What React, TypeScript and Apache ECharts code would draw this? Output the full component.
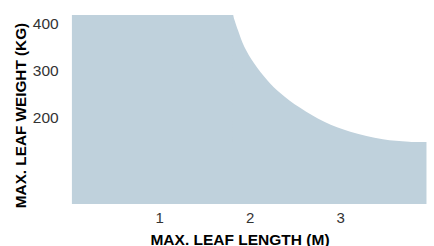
import React, { useEffect, useRef } from "react";
import * as echarts from "echarts";

const plateauLength = [0.03, 1.814];
const plateauWeight = [400, 400];
const declineLength = [1.81, 1.865, 1.936, 2.044, 2.19, 2.333, 2.549, 2.82, 3.108, 3.468, 3.757, 3.95];
const declineWeight = [400, 368, 333, 298, 262, 235, 204, 174, 153, 137, 132, 131];
const yTickLabels = [200, 300, 400];
const xTickLabels = [1, 2, 3];

export default function App() {
  const ref = useRef<HTMLDivElement>(null);
  useEffect(() => {
    document.body.style.margin = "0";
    if (!ref.current) return;
    const chart = echarts.init(ref.current, null, { renderer: "svg" });
    const font = "'Liberation Sans', Arial, Helvetica, sans-serif";
    const area = { color: "#bfd1dc", opacity: 1 };
    chart.setOption({
      animation: false,
      grid: { left: 69.2, top: 15, width: 370, height: 189 },
      xAxis: {
        type: "value",
        min: 0,
        max: 4,
        interval: 1,
        axisLine: { show: false },
        axisTick: { show: false },
        splitLine: { show: false },
        axisLabel: {
          fontFamily: font,
          fontSize: 15,
          color: "#333",
          margin: 6,
          formatter: (v: number) => (xTickLabels.includes(v) ? String(v) : ""),
        },
      },
      yAxis: {
        type: "value",
        min: 0,
        max: 400,
        interval: 100,
        axisLine: { show: false },
        axisTick: { show: false },
        splitLine: { show: false },
        axisLabel: {
          fontFamily: font,
          fontSize: 15.5,
          color: "#333",
          margin: 10.5,
          verticalAlign: "top",
          formatter: (v: number) => (yTickLabels.includes(v) ? String(v) : ""),
        },
      },
      graphic: [
        {
          type: "text",
          x: 240,
          y: 239,
          style: {
            text: "MAX. LEAF LENGTH (M)",
            fontFamily: font,
            fontWeight: "bold",
            fontSize: 15.5,
            fill: "#000",
            align: "center",
            verticalAlign: "middle",
          },
        },
        {
          type: "text",
          x: 20.5,
          y: 115.5,
          rotation: Math.PI / 2,
          style: {
            text: "MAX. LEAF WEIGHT (KG)",
            fontFamily: font,
            fontWeight: "bold",
            fontSize: 15.3,
            fill: "#000",
            align: "center",
            verticalAlign: "middle",
          },
        },
      ],
      series: [
        {
          type: "line",
          data: plateauLength.map((x, i) => [x, plateauWeight[i]]),
          showSymbol: false,
          lineStyle: { width: 0 },
          areaStyle: area,
        },
        {
          type: "line",
          data: declineLength.map((x, i) => [x, declineWeight[i]]),
          smooth: 0.35,
          showSymbol: false,
          lineStyle: { width: 0 },
          areaStyle: area,
        },
      ],
    });
    return () => chart.dispose();
  }, []);
  return <div ref={ref} style={{ width: 434, height: 246 }} />;
}
